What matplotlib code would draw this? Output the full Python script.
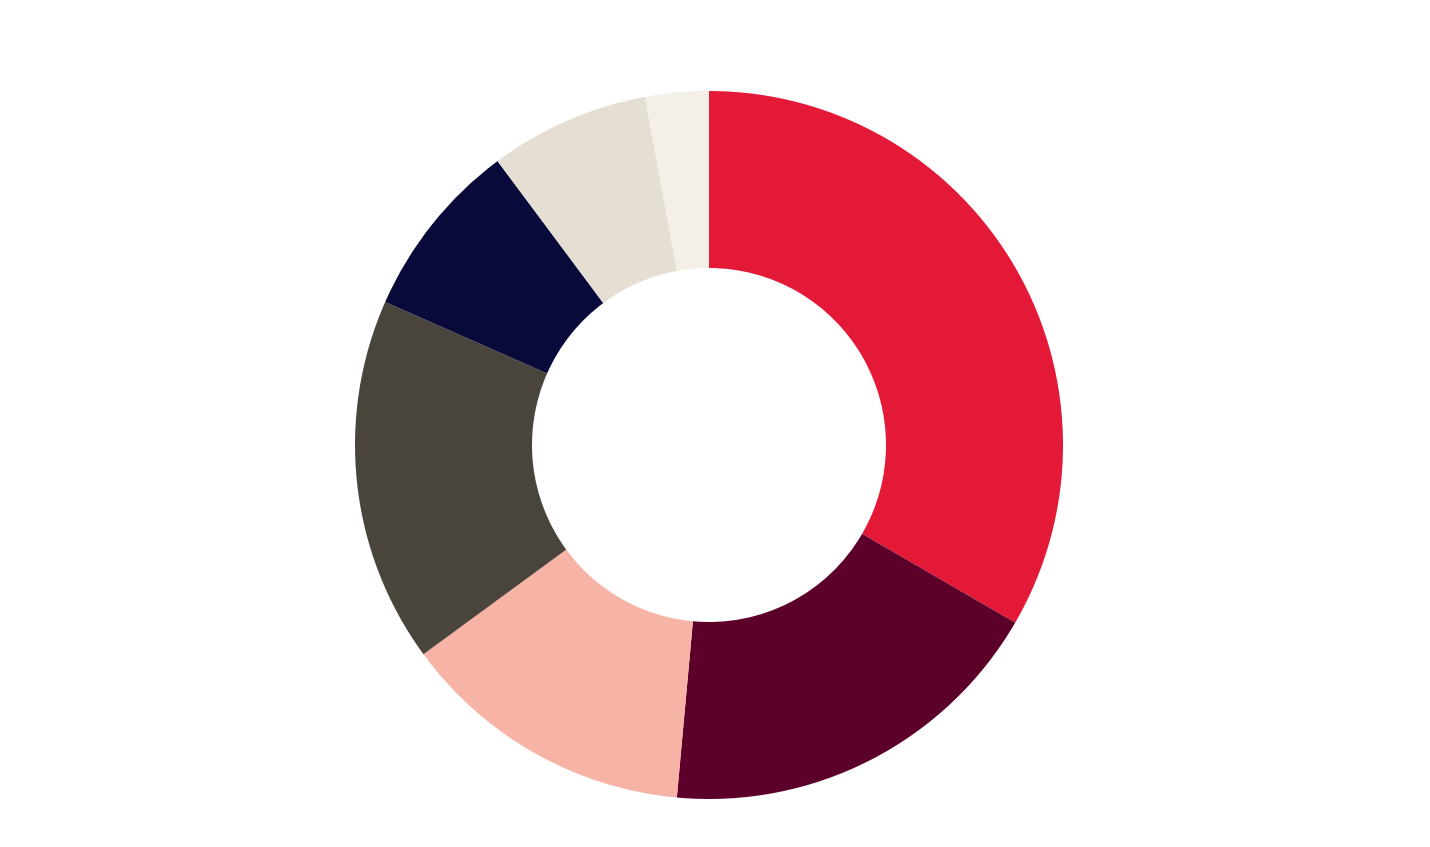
import matplotlib
matplotlib.use("Agg")
import matplotlib.pyplot as plt

labels = ["A", "B", "C", "D", "E", "F", "G"]
values = [33.4, 18.1, 13.5, 16.7, 8.2, 7.3, 2.9]
colors = ["#e31937", "#5c002a", "#f7b3a5", "#4a453c", "#0a0a3a", "#e5dfd3", "#f4f0e8"]

fig = plt.figure(figsize=(14.3, 8.47), dpi=100)
ax = fig.add_axes([355/1430, 48/847, 708/1430, 708/847])
ax.pie(values, colors=colors, startangle=90, counterclock=False, radius=1,
       wedgeprops=dict(width=0.5, linewidth=0))
ax.set_xlim(-1, 1); ax.set_ylim(-1, 1)
ax.set_aspect("equal")
ax.axis("off")
fig.savefig("out.png", dpi=100)
